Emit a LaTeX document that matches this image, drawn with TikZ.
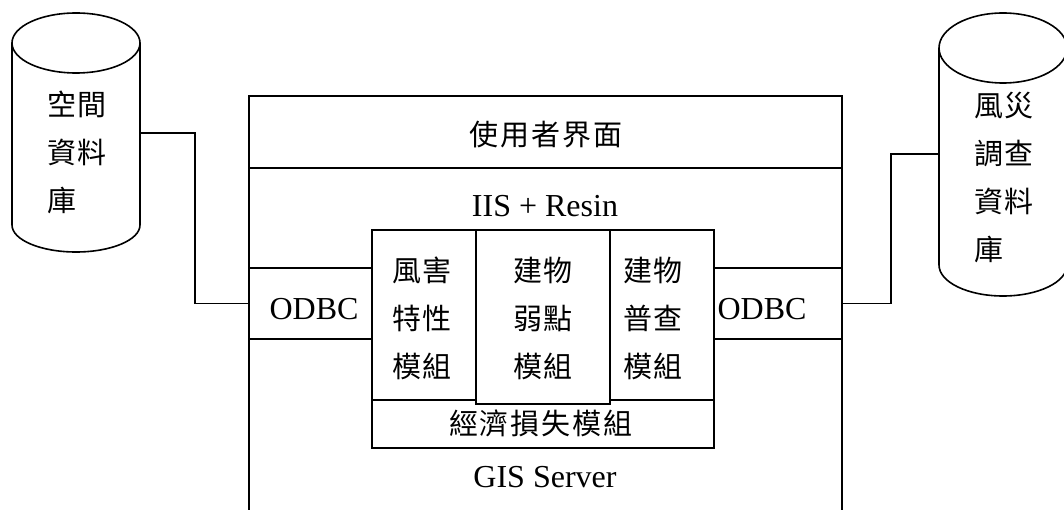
\documentclass[tikz,border=0pt]{standalone}
\usepackage{fontspec}
\setmainfont{Liberation Serif}
\newfontfamily\cjk{Noto Sans CJK TC}
\newcommand{\gp}{\hspace{2pt}}
\begin{document}
\begin{tikzpicture}[x=1pt,y=1pt,
  line width=1.6pt,
  box/.style={draw, rectangle, outer sep=0pt, inner sep=0pt, anchor=north west},
  cjktxt/.style={font=\cjk\fontsize{29pt}{48pt}\selectfont, inner sep=0pt},
  lattxt/.style={font=\fontsize{32pt}{38pt}\selectfont, inner sep=0pt, anchor=base}]
\clip (0,0) rectangle (1064,-510);
\fill[white] (0,0) rectangle (1064,-510);
% main frame
\node[box, minimum width=593pt, minimum height=434pt] (main) at (249,-96) {};
\node[box, minimum width=593pt, minimum height=72pt] (ui) at (249,-96) {};
\node[box, minimum width=123pt, minimum height=71pt] (odbcL) at (249,-268) {};
\node[box, minimum width=128pt, minimum height=71pt] (odbcR) at (714,-268) {};
\node[box, minimum width=342pt, minimum height=48pt] (econ) at (372,-400) {};
\node[box, minimum width=104pt, minimum height=170pt] (modA) at (372,-230) {};
\node[box, minimum width=104pt, minimum height=170pt] (modC) at (610,-230) {};
\node[box, fill=white, minimum width=134pt, minimum height=174pt] (modB) at (476,-230) {};
% cylinders
\draw (12,-43) -- (12,-225) arc[start angle=180, end angle=360, x radius=64pt, y radius=27pt] -- (140,-43);
\draw (76,-43) ellipse[x radius=64pt, y radius=30pt];
\draw (939,-48) -- (939,-265) arc[start angle=180, end angle=360, x radius=64pt, y radius=31pt] -- (1067,-48);
\draw (1003,-48) ellipse[x radius=64pt, y radius=35pt];
\coordinate (cylL) at (140,-133);
\coordinate (cylR) at (939,-154);
% connectors
\draw (cylL) -- ++(55,0) |- (odbcL.west);
\draw (odbcR.east) -- ++(49,0) |- (cylR);
% texts
\node[cjktxt] (tui) at (546,-135) {使\gp 用\gp 者\gp 界\gp 面};
\node[lattxt] (tiis) at (545,-217) {IIS + Resin};
\node[lattxt] (tgis) at (545,-487) {GIS Server};
\node[lattxt] (todbcL) at (314,-319) {ODBC};
\node[lattxt] (todbcR) at (762,-319) {ODBC};
\node[cjktxt, align=center] (tA) at (422,-318) {風\gp 害\\特\gp 性\\模\gp 組};
\node[cjktxt, align=center] (tB) at (543,-318) {建\gp 物\\弱\gp 點\\模\gp 組};
\node[cjktxt, align=center] (tC) at (653,-318) {建\gp 物\\普\gp 查\\模\gp 組};
\node[cjktxt] (tE) at (541,-423) {經\gp 濟\gp 損\gp 失\gp 模\gp 組};
\node[cjktxt, align=left] (tcL) at (77,-152) {空\gp 間\\資\gp 料\\庫};
\node[cjktxt, align=left] (tcR) at (1004,-177) {風\gp 災\\調\gp 查\\資\gp 料\\庫};
\end{tikzpicture}
\end{document}
